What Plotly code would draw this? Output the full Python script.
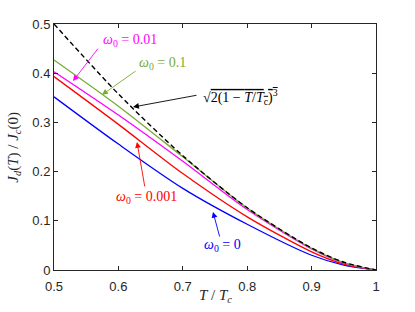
import plotly.graph_objects as go

# Data
t = [0.5, 0.6, 0.7, 0.8, 0.9, 0.95, 1.0]
black_dashed = [0.5, 0.3578, 0.2324, 0.1265, 0.0447, 0.0158, 0.0]
w_01 = [0.427, 0.333, 0.230, 0.126, 0.044, 0.015, 0.0]
w_001 = [0.403, 0.315, 0.221, 0.123, 0.043, 0.014, 0.0]
w_0001 = [0.393, 0.296, 0.196, 0.108, 0.037, 0.012, 0.0]
w_0 = [0.352, 0.256, 0.166, 0.093, 0.030, 0.010, 0.0]

x_ticks = [0.5, 0.6, 0.7, 0.8, 0.9, 1.0]
x_tick_labels = ["0.5", "0.6", "0.7", "0.8", "0.9", "1"]
y_ticks = [0, 0.1, 0.2, 0.3, 0.4, 0.5]
y_tick_labels = ["0", "0.1", "0.2", "0.3", "0.4", "0.5"]

BLUE = "#0000FF"
RED = "#FF0000"
MAG = "#FF00FF"
GREEN = "#77AC30"
SERIF = "Liberation Serif"

fig = go.Figure()
for ys, col in [(w_0, BLUE), (w_0001, RED), (w_001, MAG), (w_01, GREEN)]:
    fig.add_trace(go.Scatter(x=t, y=ys, mode="lines", line=dict(color=col, width=1.3, shape="spline", smoothing=0.8)))
fig.add_trace(go.Scatter(x=t, y=black_dashed, mode="lines",
                         line=dict(color="black", width=1.4, dash="5px,3px", shape="spline", smoothing=0.8)))

def arrow(tail, tip, col):
    fig.add_annotation(x=tip[0], y=tip[1], ax=tail[0], ay=tail[1], xref="x", yref="y",
                       axref="x", ayref="y", text="", showarrow=True, arrowhead=2,
                       arrowsize=1.3, arrowwidth=0.9, arrowcolor=col)

def label(pos, txt, col, anchor="center"):
    fig.add_annotation(x=pos[0], y=pos[1], xref="x", yref="y", text=txt, showarrow=False,
                       xanchor=anchor, yanchor="middle",
                       font=dict(family=SERIF, size=14, color=col))

arrow((0.570, 0.453), (0.5295, 0.384), MAG)
label((0.618, 0.467), "<i>ω</i><sub>0</sub> = 0.01", MAG)
arrow((0.629, 0.4065), (0.5745, 0.356), GREEN)
label((0.669, 0.419), "<i>ω</i><sub>0</sub> = 0.1", GREEN)
arrow((0.7236, 0.3557), (0.6227, 0.3313), "black")
label((0.729, 0.3516), "√<span style='text-decoration:overline'>2(1 − <i>T</i>/<i>T</i><sub>c</sub>)<sup>3</sup></span>", "black", anchor="left")
arrow((0.6413, 0.1667), (0.6289, 0.260), RED)
label((0.643, 0.148), "<i>ω</i><sub>0</sub> = 0.001", RED)
arrow((0.7578, 0.065), (0.7469, 0.118), BLUE)
label((0.762, 0.049), "<i>ω</i><sub>0</sub> = 0", BLUE)

# axis titles
fig.add_annotation(x=-0.125, y=0.5, xref="paper", yref="paper",
                   text="<i>J<sub>d</sub></i>(<i>T</i>) / <i>J<sub>c</sub></i>(0)", textangle=-90,
                   showarrow=False, xanchor="center", yanchor="middle",
                   font=dict(family=SERIF, size=15, color="#262626"))
fig.add_annotation(x=0.5, y=-0.105, xref="paper", yref="paper",
                   text="<i>T</i> / <i>T<sub>c</sub></i>",
                   showarrow=False, xanchor="center", yanchor="middle",
                   font=dict(family=SERIF, size=15, color="#262626"))

axis_common = dict(showgrid=False, zeroline=False, showline=True, linecolor="#262626", linewidth=1,
                   mirror="ticks", ticks="inside", ticklen=4, tickcolor="#262626",
                   tickfont=dict(family="Liberation Sans", size=13, color="#262626"))
fig.update_xaxes(range=[0.5, 1.0], tickvals=x_ticks, ticktext=x_tick_labels,
                 ticklabelstandoff=4, **axis_common)
fig.update_yaxes(range=[0, 0.5], tickvals=y_ticks, ticktext=y_tick_labels, **axis_common)

fig.update_layout(width=415, height=312, margin=dict(l=54, r=39, t=24, b=42),
                  paper_bgcolor="white", plot_bgcolor="white", showlegend=False)
fig.write_html("out.html", config={"displayModeBar": False},
               post_script="document.body.style.margin='0px';document.body.style.overflow='hidden';")
